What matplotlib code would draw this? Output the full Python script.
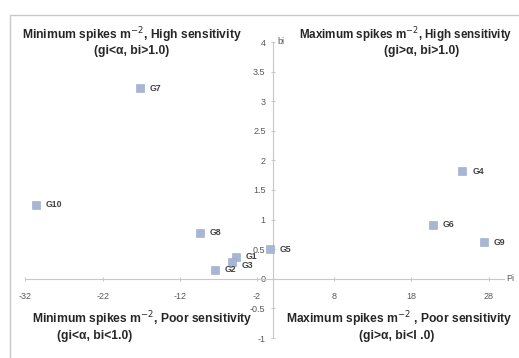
import matplotlib.pyplot as plt
from matplotlib.patches import Rectangle

# genotype positions (Pi, bi)
genotypes = ['G1', 'G2', 'G3', 'G4', 'G5', 'G6', 'G7', 'G8', 'G9', 'G10']
pi_vals = [-4.7, -7.4, -5.3, 24.6, -0.3, 20.8, -17.2, -9.4, 27.4, -30.6]
bi_vals = [0.37, 0.15, 0.29, 1.82, 0.50, 0.91, 3.22, 0.78, 0.62, 1.25]

x_ticks = [-32, -22, -12, -2, 8, 18, 28]
y_ticks = [-1, -0.5, 0, 0.5, 1, 1.5, 2, 2.5, 3, 3.5, 4]

plt.rcParams['font.family'] = ['Liberation Sans', 'DejaVu Sans']
plt.rcParams['axes.unicode_minus'] = False

W, H = 519, 358
fig = plt.figure(figsize=(W / 100, H / 100), dpi=100)

# chart area border (cut off at right/bottom like the screenshot)
fig.patches.append(Rectangle((10 / W, 1 - 360 / H), 540 / W, 345 / H,
                             transform=fig.transFigure, fill=False,
                             edgecolor='#c8c8c8', lw=1.0))

ax = fig.add_axes([25.5 / W, 1 - 338 / H, 478.6 / W, 296 / H])
ax.set_xlim(-32, 30)
ax.set_ylim(-1, 4)
ax.patch.set_alpha(0)

for s in ['top', 'right']:
    ax.spines[s].set_visible(False)
ax.spines['left'].set_position(('data', 0))
ax.spines['bottom'].set_position(('data', 0))
ax.spines['left'].set_color('#c8c8c8')
ax.spines['bottom'].set_color('#c8c8c8')
ax.set_xticks(x_ticks)
ax.set_yticks(y_ticks)
ax.set_yticklabels([('%g' % v) for v in y_ticks])
ax.tick_params(axis='both', colors='#c8c8c8', labelcolor='#595959',
               labelsize=6.5, length=3, direction='inout')
ax.tick_params(axis='x', pad=8)

ax.scatter(pi_vals, bi_vals, marker='s', s=36, color='#a8b6d4',
           edgecolors='#98a8cc', linewidths=0.4, zorder=3)
for g, x, y in zip(genotypes, pi_vals, bi_vals):
    dy = -3 if g == 'G3' else 0
    ax.annotate(g, (x, y), xytext=(7, dy), textcoords='offset points',
                fontsize=6.3, fontweight='bold', color='#404040',
                va='center', ha='left')

ax.text(0.6, 4, 'bi', fontsize=6.5, color='#595959', va='center', ha='left')
ax.text(30.3, 0, 'Pi', fontsize=6.5, color='#595959', va='center', ha='left')

tkw = dict(fontsize=8.7, fontweight='bold', color='#262626', ha='center',
           va='center', transform=fig.transFigure)
fig.text(132 / W, 1 - 35 / H, 'Minimum spikes m$^{-2}$, High sensitivity', **tkw)
fig.text(132 / W, 1 - 51 / H, '(gi<\u03b1, bi>1.0)', **tkw)
tkw_r = dict(tkw, fontsize=8.4)
fig.text(406 / W, 1 - 35 / H, 'Maximum spikes m$^{-2}$, High sensitivity', **tkw_r)
fig.text(422 / W, 1 - 51 / H, '(gi>\u03b1, bi>1.0)', **tkw)
fig.text(142 / W, 1 - 319 / H, 'Minimum spikes m$^{-2}$, Poor sensitivity', **tkw)
fig.text(95 / W, 1 - 336 / H, '(gi<\u03b1, bi<1.0)', **tkw)
fig.text(399 / W, 1 - 319 / H, 'Maximum spikes m$^{-2}$ , Poor sensitivity', **tkw)
fig.text(397 / W, 1 - 336 / H, '(gi>\u03b1, bi<l .0)', **tkw)

fig.savefig('out.png', dpi=100)
